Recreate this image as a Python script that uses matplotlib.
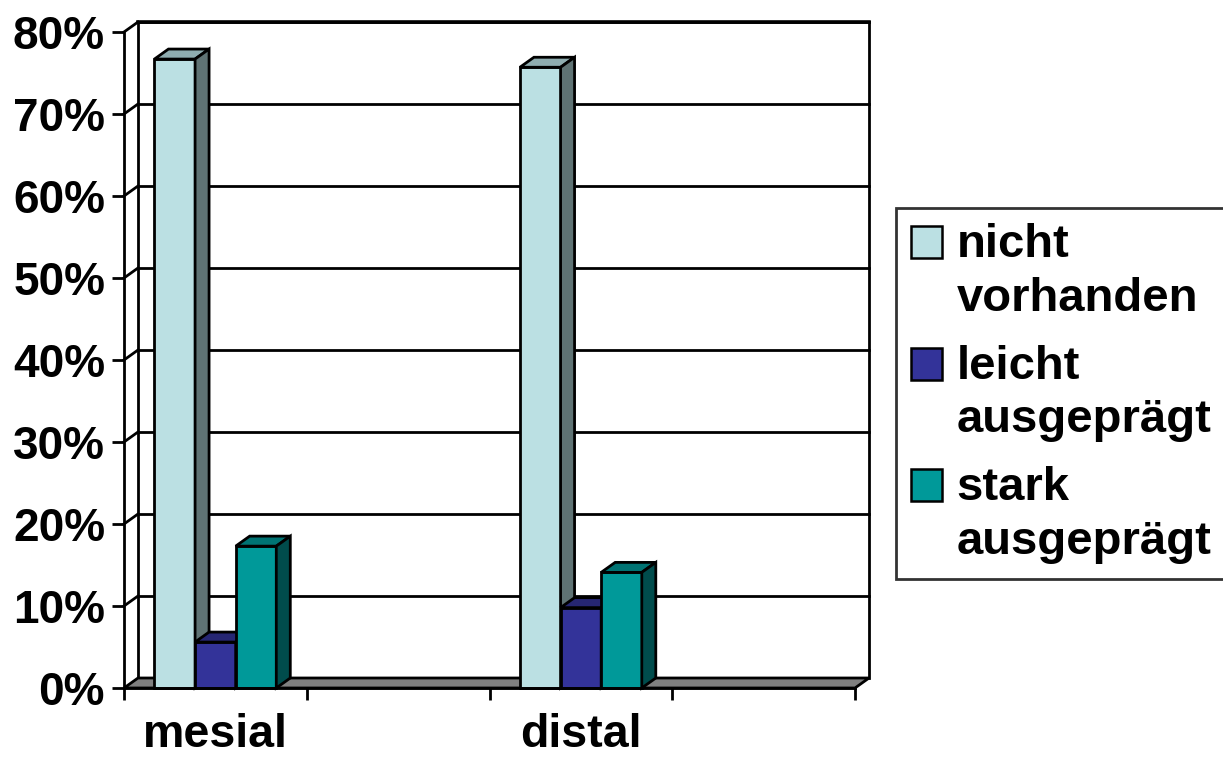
import matplotlib
matplotlib.use("Agg")
import matplotlib.pyplot as plt
from matplotlib.patches import Polygon, Rectangle, Patch
from matplotlib.legend_handler import HandlerPatch
import numpy as np

# ---------------- data ----------------
categories = ["mesial", "", "distal", ""]
series_names = ["nicht\nvorhanden", "leicht\nausgeprägt", "stark\nausgeprägt"]
nicht_vorhanden = [76.7, None, 75.7, None]
leicht_ausgepraegt = [5.6, None, 9.8, None]
stark_ausgepraegt = [17.3, None, 14.1, None]
y_ticks = [0, 10, 20, 30, 40, 50, 60, 70, 80]
y_tick_labels = ["0%", "10%", "20%", "30%", "40%", "50%", "60%", "70%", "80%"]

series = [nicht_vorhanden, leicht_ausgepraegt, stark_ausgepraegt]
front_colors = ["#BBE0E3", "#333399", "#009999"]
top_colors = ["#8FADB0", "#262673", "#007373"]
side_colors = ["#5F7374", "#1A1A4D", "#004C4C"]

plt.rcParams["font.family"] = ["Liberation Sans", "DejaVu Sans"]
plt.rcParams["font.weight"] = "bold"

W, H = 1223, 758
fig = plt.figure(figsize=(W / 100, H / 100), dpi=100)
fig.patch.set_facecolor("white")

x0, x1, y0, y1 = 124, 855, 688, 32
ax = fig.add_axes([x0 / W, (H - y0) / H, (x1 - x0) / W, (y0 - y1) / H])
ncat = len(categories)
ymax = y_ticks[-1]
ax.set_xlim(0, ncat)
ax.set_ylim(0, ymax)
ax.set_facecolor("none")

# depth offsets (data units)
DX = 14 / ((x1 - x0) / ncat)
DY = 10 / ((y0 - y1) / ymax)
LW = 2.0

for s in ["top", "right"]:
    ax.spines[s].set_visible(False)
for s in ["left", "bottom"]:
    ax.spines[s].set_linewidth(LW)
    ax.spines[s].set_zorder(6)

# back wall gridlines and left wall diagonals
for v in y_ticks[1:]:
    ax.plot([DX, ncat + DX], [v + DY, v + DY], color="black", lw=LW, zorder=1, clip_on=False)
    ax.plot([0, DX], [v, v + DY], color="black", lw=LW, zorder=1, clip_on=False)
# back wall borders
ax.plot([DX, DX], [DY, ymax + DY], color="black", lw=LW, zorder=1, clip_on=False)
ax.plot([ncat + DX, ncat + DX], [DY, ymax + DY], color="black", lw=LW, zorder=1, clip_on=False)
ax.plot([DX, ncat + DX], [ymax + DY, ymax + DY], color="black", lw=LW + 0.6, zorder=1, clip_on=False)

# floor
ax.add_patch(Polygon([(0, 0), (ncat, 0), (ncat + DX, DY), (DX, DY)], closed=True,
                     facecolor="#808080", edgecolor="black", lw=LW, zorder=2, clip_on=False))

# bars
bw = 1 / 4.5
nser = len(series)
for ci in range(ncat):
    for si, vals in enumerate(series):
        v = vals[ci]
        if v is None:
            continue
        left = ci + 0.5 + (si - (nser - 1) / 2) * bw - bw / 2
        right = left + bw
        z = 3 + ci * 0.1 + si * 0.01
        ax.add_patch(Rectangle((left, 0), bw, v, facecolor=front_colors[si],
                               edgecolor="black", lw=LW, zorder=z, clip_on=False))
        ax.add_patch(Polygon([(left, v), (right, v), (right + DX, v + DY), (left + DX, v + DY)],
                             closed=True, facecolor=top_colors[si], edgecolor="black",
                             lw=LW, zorder=z, clip_on=False))
        ax.add_patch(Polygon([(right, 0), (right + DX, DY), (right + DX, v + DY), (right, v)],
                             closed=True, facecolor=side_colors[si], edgecolor="black",
                             lw=LW, zorder=z, clip_on=False))

# ticks
ax.set_yticks(y_ticks)
ax.set_yticklabels(y_tick_labels)
ax.tick_params(axis="y", direction="out", length=8.6, width=LW, labelsize=33, pad=5)
ax.set_xticks(np.arange(ncat + 1))
ax.set_xticklabels([])
ax.set_xticks(np.arange(ncat) + 0.5, minor=True)
ax.set_xticklabels(categories, minor=True)
ax.tick_params(axis="x", which="major", direction="out", length=8.6, width=LW)
ax.tick_params(axis="x", which="minor", length=0, labelsize=33.5, pad=18)


class FirstLineHandler(HandlerPatch):
    def create_artists(self, legend, orig_handle, xdescent, ydescent, width, height,
                       fontsize, trans):
        shift = 0.64 * fontsize
        p = Rectangle((-xdescent, -ydescent + shift), width, height,
                      facecolor=orig_handle.get_facecolor(), edgecolor="black", lw=1.8)
        p.set_transform(trans)
        return [p]


handles = [Patch(facecolor=c) for c in front_colors]
leg = fig.legend(handles, series_names, loc="upper left",
                 bbox_to_anchor=(896 / W, 1 - 208 / H), borderaxespad=0,
                 fontsize=34, handlelength=0.66, handleheight=0.66, handletextpad=0.3,
                 labelspacing=0.5, borderpad=0.32, fancybox=False, frameon=True,
                 handler_map={Patch: FirstLineHandler()})
leg.get_frame().set_edgecolor("black")
leg.get_frame().set_linewidth(2)
for t in leg.get_texts():
    t.set_fontweight("bold")
    t.set_linespacing(1.29)

fig.savefig("out.png", dpi=100, facecolor="white")
